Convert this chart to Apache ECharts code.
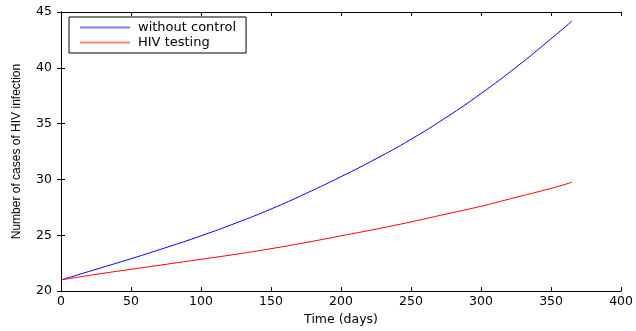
<!DOCTYPE html>
<html>
<head>
<meta charset="utf-8">
<script src="https://cdn.jsdelivr.net/npm/echarts@6/dist/echarts.min.js"></script>
<style>
  html, body { margin: 0; padding: 0; background: #fff; }
  #chart { width: 636px; height: 331px; }
</style>
</head>
<body>
<div id="chart"></div>
<script>
// time in days
const timeDays = [0, 25, 50, 75, 100, 125, 150, 175, 200, 225, 250, 275, 300, 325, 350, 365];
// number of cases
const withoutControl = [21.0, 21.95, 22.9, 23.9, 24.95, 26.1, 27.35, 28.75, 30.25, 31.85, 33.6, 35.55, 37.7, 40.05, 42.6, 44.2];
const hivTesting = [21.0, 21.5, 21.95, 22.4, 22.85, 23.3, 23.8, 24.35, 24.95, 25.55, 26.2, 26.9, 27.6, 28.4, 29.2, 29.75];

const toPairs = (ys) => timeDays.map((t, i) => [t, ys[i]]);

const font = "'DejaVu Sans', Verdana, sans-serif";

const chart = echarts.init(document.getElementById("chart"));
chart.setOption({
  animation: false,
  grid: { left: 61, right: 13, top: 12, bottom: 36, show: false },
  legend: {
    left: 69,
    top: 17,
    orient: "vertical",
    backgroundColor: "#fff",
    borderColor: "#000",
    borderWidth: 1,
    padding: [3, 10, 3, 11],
    itemGap: 0,
    itemWidth: 50,
    itemHeight: 2,
    icon: "rect",
    textStyle: { fontFamily: font, fontSize: 13, color: "#000", padding: [0, 0, 0, 3], lineHeight: 15 },
    data: [
      { name: "without control", itemStyle: { color: "#7f7fff" } },
      { name: "HIV testing", itemStyle: { color: "#ff8080" } },
    ],
  },
  xAxis: [
    {
      type: "value",
      min: 0,
      max: 400,
      interval: 50,
      name: "Time (days)",
      nameLocation: "middle",
      nameGap: 15,
      nameTextStyle: { fontFamily: font, fontSize: 12.5, color: "#000" },
      axisLine: { lineStyle: { color: "#000", width: 1 } },
      axisTick: { inside: true, length: 4, lineStyle: { color: "#000" } },
      axisLabel: { fontFamily: font, fontSize: 12.5, color: "#000", margin: 4 },
      splitLine: { show: false },
    },
    {
      type: "value",
      position: "top",
      min: 0,
      max: 400,
      interval: 50,
      axisLine: { lineStyle: { color: "#000", width: 1 } },
      axisTick: { inside: true, length: 4, lineStyle: { color: "#000" } },
      axisLabel: { show: false },
      splitLine: { show: false },
    },
  ],
  yAxis: [
    {
      type: "value",
      min: 20,
      max: 45,
      interval: 5,
      name: "Number of cases of HIV infection",
      nameLocation: "middle",
      nameGap: 38,
      nameTextStyle: {
        fontFamily: "'Liberation Sans Narrow', 'Liberation Sans', sans-serif",
        fontSize: 12,
        color: "#000",
      },
      axisLine: { show: true, lineStyle: { color: "#000", width: 1 } },
      axisTick: { show: true, inside: true, length: 4, lineStyle: { color: "#000" } },
      axisLabel: { fontFamily: font, fontSize: 12.5, color: "#000", margin: 9 },
      splitLine: { show: false },
    },
    {
      type: "value",
      position: "right",
      min: 20,
      max: 45,
      interval: 5,
      axisLine: { show: true, lineStyle: { color: "#000", width: 1 } },
      axisTick: { show: true, inside: true, length: 4, lineStyle: { color: "#000" } },
      axisLabel: { show: false },
      splitLine: { show: false },
    },
  ],
  series: [
    {
      name: "without control",
      type: "line",
      data: toPairs(withoutControl),
      smooth: true,
      symbol: "none",
      lineStyle: { color: "#0000ff", width: 1 },
      itemStyle: { color: "#0000ff" },
    },
    {
      name: "HIV testing",
      type: "line",
      data: toPairs(hivTesting),
      smooth: true,
      symbol: "none",
      lineStyle: { color: "#ff0000", width: 1 },
      itemStyle: { color: "#ff0000" },
    },
  ],
});
</script>
</body>
</html>
